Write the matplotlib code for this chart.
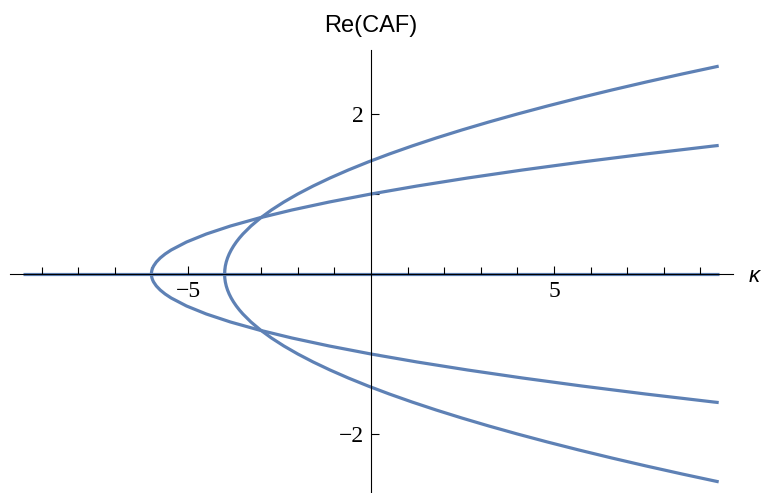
import numpy as np
import matplotlib
matplotlib.use("Agg")
import matplotlib.pyplot as plt

# Upper branch of inner-vertex curve (vertex near kappa = -6)
curve_a_re = [0.0, 0.025, 0.05, 0.075, 0.1, 0.15, 0.2, 0.25, 0.3, 0.4, 0.5,
              0.6, 0.7, 0.8, 0.9, 1.0, 1.1, 1.2, 1.3, 1.4, 1.5, 1.6, 1.607]
curve_a_kappa = [-6.0, -5.996, -5.985, -5.966, -5.94, -5.865, -5.76, -5.625,
                 -5.46, -5.04, -4.5, -3.84, -3.06, -2.16, -1.14, 0.0, 1.26,
                 2.64, 4.14, 5.76, 7.5, 9.36, 9.5]

# Upper branch of second curve (vertex near kappa = -4)
curve_b_re = [0.0, 0.05, 0.1, 0.15, 0.2, 0.25, 0.3, 0.35, 0.4, 0.45, 0.5,
              0.6, 0.7, 0.8, 0.9, 1.0, 1.1, 1.2, 1.3, 1.4, 1.5, 1.6, 1.7,
              1.8, 1.9, 2.0, 2.1, 2.2, 2.3, 2.4, 2.5, 2.598]
curve_b_kappa = [-4.0, -3.995, -3.98, -3.955, -3.92, -3.875, -3.82, -3.755,
                 -3.68, -3.595, -3.5, -3.28, -3.02, -2.72, -2.38, -2.0, -1.58,
                 -1.12, -0.62, -0.08, 0.5, 1.12, 1.78, 2.48, 3.22, 4.0, 4.82,
                 5.68, 6.58, 7.52, 8.5, 9.5]

# Zero real-part branch across the whole range
zero_kappa = [-9.5, 9.5]
zero_re = [0.0, 0.0]

x_major = [-5, 5]
y_major = [-2, 2]
x_minor = [-9, -8, -7, -6, -4, -3, -2, -1, 1, 2, 3, 4, 6, 7, 8, 9]
y_minor = [-1, 1]

color = "#5E81B5"
W, H = 761, 493
fig = plt.figure(figsize=(W / 100, H / 100), dpi=100)
ax = fig.add_axes([0, 0, 1, 1])
ax.patch.set_alpha(0)

x0px, y0px = 371, 274
sx, sy = 36.6, 80.0
ax.set_xlim(-x0px / sx, (W - x0px) / sx)
ax.set_ylim(-(H - y0px) / sy, y0px / sy)


def full_branch(kap, re):
    kap = np.asarray(kap)
    re = np.asarray(re)
    return (np.concatenate([kap[::-1], kap[1:]]),
            np.concatenate([-re[::-1], re[1:]]))


lw = 2.3
ax.plot(zero_kappa, zero_re, color=color, lw=lw, zorder=1,
        solid_capstyle="butt")
xa, ya = full_branch(curve_a_kappa, curve_a_re)
ax.plot(xa, ya, color=color, lw=lw, zorder=2, solid_joinstyle="round",
        solid_capstyle="butt")
xb, yb = full_branch(curve_b_kappa, curve_b_re)
ax.plot(xb, yb, color=color, lw=lw, zorder=2, solid_joinstyle="round",
        solid_capstyle="butt")

for s in ["top", "right"]:
    ax.spines[s].set_visible(False)
ax.spines["bottom"].set_position(("data", 0))
ax.spines["left"].set_position(("data", 0))
ax.spines["bottom"].set_bounds(-(x0px - 10) / sx, (733 - x0px) / sx)
ax.spines["left"].set_bounds(-(492 - y0px) / sy, (y0px - 50) / sy)
for s in ["bottom", "left"]:
    ax.spines[s].set_linewidth(0.8)
    ax.spines[s].set_color("black")
    ax.spines[s].set_zorder(3)

ax.set_xticks(x_major)
ax.set_yticks(y_major)
ax.set_xticks(x_minor, minor=True)
ax.set_yticks(y_minor, minor=True)
ax.set_xticklabels([f"\u2212{abs(v)}" if v < 0 else str(v) for v in x_major])
ax.set_yticklabels([f"\u2212{abs(v)}" if v < 0 else str(v) for v in y_major])
ax.tick_params(which="both", direction="in", width=0.8, color="black")
ax.tick_params(axis="x", which="major", length=5.5, pad=5)
ax.tick_params(axis="x", which="minor", length=5)
ax.tick_params(axis="y", which="major", length=6, pad=5)
ax.tick_params(axis="y", which="minor", length=6)
for lab in ax.get_xticklabels() + ax.get_yticklabels():
    lab.set_fontfamily("Liberation Serif")
    lab.set_fontsize(17)

fig.text(371 / W, 1 - 32 / H, "Re(CAF)", ha="center", va="baseline",
         fontsize=17, family="Liberation Sans")
fig.text(749 / W, 1 - 282 / H, "\u03ba", ha="left", va="baseline",
         fontsize=16, family="Liberation Sans", style="italic")

fig.savefig("out.png", dpi=100)
